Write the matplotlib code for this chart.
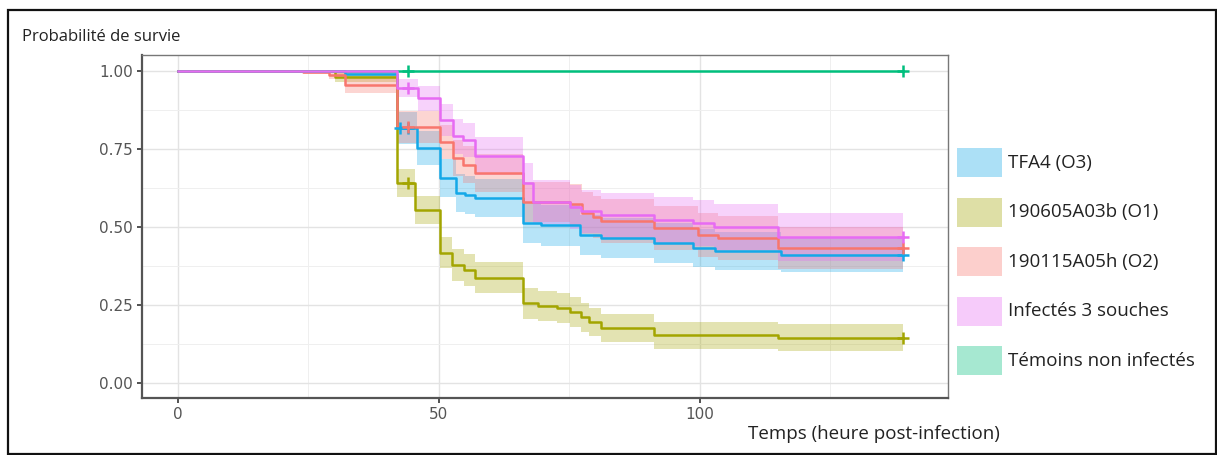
import matplotlib
matplotlib.use("Agg")
import matplotlib.pyplot as plt
from matplotlib.patches import Rectangle

# ---------------- data ----------------
labels = ["TFA4 (O3)", "190605A03b (O1)", "190115A05h (O2)",
          "Infectés 3 souches", "Témoins non infectés"]
colors = ["#13A8E8", "#A3A500", "#F8766D", "#E76BF3", "#00BF7D"]
t_end = 139

tfa4_t = [0, 32, 42, 45.9, 50.3, 53.2, 55, 57, 66.2, 69.5, 77, 81, 91.2, 98.8, 103, 115.5]
tfa4_s = [1, 0.99, 0.817, 0.753, 0.657, 0.609, 0.603, 0.593, 0.513, 0.505, 0.474, 0.465, 0.449, 0.432, 0.423, 0.41]
tfa4_hw = [0, 0.01, 0.05, 0.055, 0.06, 0.06, 0.06, 0.06, 0.065, 0.065, 0.065, 0.065, 0.065, 0.06, 0.06, 0.055]

o1_t = [0, 30, 42, 45.5, 50.3, 52.6, 54.8, 57, 66.2, 69, 72.7, 75.2, 77.2, 78.7, 81, 91.2, 115]
o1_s = [1, 0.98, 0.64, 0.555, 0.417, 0.378, 0.362, 0.337, 0.256, 0.247, 0.24, 0.228, 0.21, 0.196, 0.177, 0.153, 0.145]
o1_hw = [0, 0.015, 0.045, 0.045, 0.05, 0.05, 0.05, 0.05, 0.05, 0.048, 0.048, 0.047, 0.046, 0.045, 0.045, 0.044, 0.043]

o2_t = [0, 24, 29, 32, 42, 50.3, 52.8, 54.7, 57, 66.2, 75.2, 77.5, 79.5, 81, 91.2, 99.6, 103.5, 115]
o2_s = [1, 0.995, 0.987, 0.955, 0.82, 0.773, 0.72, 0.7, 0.673, 0.58, 0.572, 0.545, 0.532, 0.52, 0.497, 0.474, 0.465, 0.433]
o2_hw = [0, 0.005, 0.012, 0.025, 0.05, 0.055, 0.058, 0.06, 0.06, 0.065, 0.067, 0.068, 0.068, 0.07, 0.07, 0.07, 0.07, 0.067]

inf_t = [0, 42, 46, 50.3, 52.8, 54.7, 57, 66.2, 68, 75.2, 77.2, 81, 91.2, 98.8, 102.7, 115]
inf_s = [1, 0.945, 0.913, 0.843, 0.79, 0.779, 0.728, 0.641, 0.58, 0.564, 0.55, 0.538, 0.522, 0.513, 0.5, 0.468]
inf_hw = [0, 0.03, 0.04, 0.05, 0.055, 0.055, 0.06, 0.065, 0.07, 0.07, 0.07, 0.072, 0.073, 0.074, 0.075, 0.078]

tem_t = [0]
tem_s = [1.0]
tem_hw = [0]

censor_t = [[42.5, 44, 139], [44, 139], [44, 139], [44, 139], [44, 139]]

x_ticks = [0, 50, 100]
y_ticks = [0.00, 0.25, 0.50, 0.75, 1.00]
y_ticklabels = ["0.00", "0.25", "0.50", "0.75", "1.00"]

series = [(tfa4_t, tfa4_s, tfa4_hw), (o1_t, o1_s, o1_hw), (o2_t, o2_s, o2_hw),
          (inf_t, inf_s, inf_hw), (tem_t, tem_s, tem_hw)]
draw_order = [0, 1, 2, 4, 3]

# ---------------- figure ----------------
W, H = 1217, 455
fig = plt.figure(figsize=(W / 100, H / 100), dpi=100)
ax = fig.add_axes([142 / W, 1 - 398 / H, (948 - 142) / W, (398 - 55) / H])

def surv_at(ts, ss, x):
    v = ss[0]
    for t, s in zip(ts, ss):
        if t <= x:
            v = s
    return v

for i in draw_order:
    ts, ss, hw = series[i]
    c = colors[i]
    xs = list(ts) + [t_end]
    lo = [max(0, s - h) for s, h in zip(ss, hw)]
    hi = [min(1, s + h) for s, h in zip(ss, hw)]
    lo = lo + [lo[-1]]
    hi = hi + [hi[-1]]
    ax.fill_between(xs, lo, hi, step="post", color=c, alpha=0.3, lw=0, zorder=2)

for i in draw_order:
    ts, ss, hw = series[i]
    c = colors[i]
    cens = censor_t[i]
    xs = list(ts) + [t_end]
    ys = list(ss) + [ss[-1]]
    ax.step(xs, ys, where="post", color=c, lw=1.8, zorder=3)
    cy = [surv_at(ts, ss, x) for x in cens]
    ax.plot(cens, cy, ls="none", marker="+", ms=9, mew=1.8, color=c, zorder=4)

ax.set_xlim(-6.9, 147.6)
ax.set_ylim(-0.048, 1.051)
ax.set_xticks(x_ticks)
ax.set_xticklabels([str(v) for v in x_ticks])
ax.set_yticks(y_ticks)
ax.set_yticklabels(y_ticklabels)
ax.set_xticks([25, 75, 125], minor=True)
ax.set_yticks([0.125, 0.375, 0.625, 0.875], minor=True)
ax.grid(True, which="major", color="#E3E3E3", lw=1.0, zorder=0)
ax.grid(True, which="minor", color="#EFEFEF", lw=0.7, zorder=0)
ax.set_axisbelow(True)
ax.tick_params(which="minor", length=0)
ax.tick_params(which="major", length=3.5, width=1.2, color="#333333",
               labelsize=11, labelcolor="#555555", pad=3)
for lab in ax.get_xticklabels() + ax.get_yticklabels():
    lab.set_fontfamily("DejaVu Sans")
for side in ["left", "bottom"]:
    ax.spines[side].set_color("#555555")
    ax.spines[side].set_linewidth(1.6)
for side in ["top", "right"]:
    ax.spines[side].set_color("#777777")
    ax.spines[side].set_linewidth(1.0)

fig.text(22 / W, 1 - 37 / H, "Probabilité de survie", fontsize=12,
         family="Open Sans", va="center", ha="left", color="#222222")
fig.text(874 / W, 1 - 434 / H, "Temps (heure post-infection)", fontsize=13.5,
         family="Open Sans", va="center", ha="center", color="#222222")

# legend (manual layout: colour keys and labels)
key_x, key_w, key_h, top0, pitch = 957, 45, 29, 148, 49.5
for k, (lab, c) in enumerate(zip(labels, colors)):
    top = top0 + k * pitch
    fig.add_artist(Rectangle((key_x / W, 1 - (top + key_h) / H), key_w / W, key_h / H,
                             transform=fig.transFigure, facecolor=c, alpha=0.35,
                             edgecolor="none"))
    fig.text((key_x + key_w + 6) / W, 1 - (top + key_h / 2) / H, lab,
             fontsize=13.5, family="Open Sans", va="center", ha="left",
             color="#222222")

fig.add_artist(Rectangle((8 / W, 1 / H), (1216 - 8) / W, (445 - 1) / H,
                         transform=fig.transFigure, fill=False,
                         edgecolor="#111111", lw=1.6))

fig.savefig("out.png", dpi=100)
